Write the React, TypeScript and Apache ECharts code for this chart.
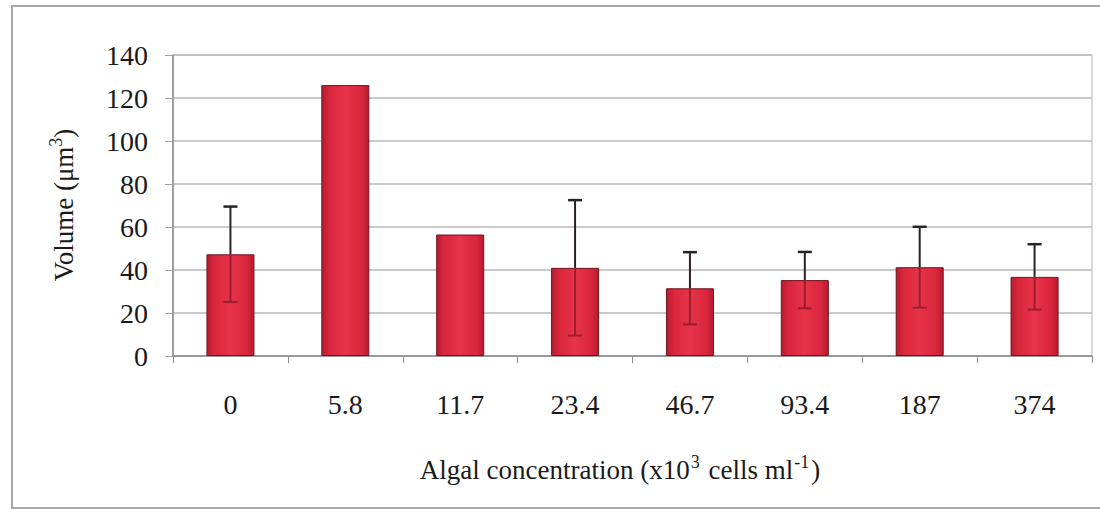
import React, { useEffect, useRef } from "react";
import * as echarts from "echarts";

const categories = ["0", "5.8", "11.7", "23.4", "46.7", "93.4", "187", "374"];
const volumes = [47.3, 126, 56.5, 41, 31.5, 35.3, 41.3, 36.8];
const errors: (number | null)[] = [22.2, null, null, 31.5, 16.8, 13.1, 18.8, 15.2];
const yTicks = { min: 0, max: 140, interval: 20 };
const xTitle = "Algal concentration (x10{sup|3} cells ml{sup|-1})";
const yTitle = "Volume (μm{sup|3})";

const FONT = "Liberation Serif";

export default function App() {
  const ref = useRef<HTMLDivElement>(null);
  useEffect(() => {
    if (!ref.current) return;
    const chart = echarts.init(ref.current, null, { renderer: "svg" });
    const errData = categories.map((c, i) => [i, volumes[i], errors[i] ?? 0]);
    chart.setOption({
      animation: false,
      backgroundColor: "#ffffff",
      grid: {
        left: 173,
        top: 55,
        right: 8,
        bottom: 156,
        show: true,
        borderColor: "#b5b5b5",
        borderWidth: 1,
      },
      xAxis: {
        type: "category",
        data: categories,
        axisLine: { show: true, lineStyle: { color: "#8c8c8c", width: 1.5 } },
        axisTick: { show: true, length: 7, lineStyle: { color: "#8c8c8c" }, alignWithLabel: false },
        axisLabel: { fontFamily: FONT, fontSize: 28, color: "#1a1a1a", margin: 34 },
      },
      yAxis: {
        type: "value",
        min: yTicks.min,
        max: yTicks.max,
        interval: yTicks.interval,
        axisLine: { show: true, lineStyle: { color: "#8c8c8c", width: 1.5 } },
        axisTick: { show: true, length: 8, lineStyle: { color: "#a0a0a0" } },
        splitLine: { show: true, lineStyle: { color: "#b8b8b8", width: 1.5 } },
        axisLabel: { fontFamily: FONT, fontSize: 28, color: "#1a1a1a", margin: 25 },
      },
      graphic: [
        {
          type: "rect",
          shape: { x: 12, y: 6, width: 1200, height: 502 },
          style: { fill: "none", stroke: "#a8a8a8", lineWidth: 2 },
          silent: true,
          z: 0,
        },
        {
          type: "text",
          x: 620,
          y: 470,
          style: {
            text: xTitle,
            fontFamily: FONT,
            fontSize: 27,
            fill: "#1a1a1a",
            align: "center",
            verticalAlign: "middle",
            rich: {
              sup: { fontFamily: FONT, fontSize: 18, fill: "#1a1a1a", padding: [0, 2, 16, 1] },
            },
          },
        },
        {
          type: "text",
          x: 64,
          y: 205,
          rotation: Math.PI / 2,
          style: {
            text: yTitle,
            fontFamily: FONT,
            fontSize: 27,
            fill: "#1a1a1a",
            align: "center",
            verticalAlign: "middle",
            rich: {
              sup: { fontFamily: FONT, fontSize: 18, fill: "#1a1a1a", padding: [0, 0, 16, 0] },
            },
          },
        },
      ],
      series: [
        {
          type: "bar",
          data: volumes,
          barWidth: 48,
          itemStyle: {
            color: new echarts.graphic.LinearGradient(0, 0, 1, 0, [
              { offset: 0, color: "#b61c30" },
              { offset: 0.15, color: "#d8263c" },
              { offset: 0.5, color: "#e8334a" },
              { offset: 0.85, color: "#d8263c" },
              { offset: 1, color: "#b61c30" },
            ]),
            borderColor: "#6e1420",
            borderWidth: 1,
          },
          z: 2,
        },
        {
          type: "custom",
          data: errData,
          z: 3,
          renderItem: (params: any, api: any) => {
            const idx = api.value(0);
            const mean = api.value(1);
            const err = api.value(2);
            if (!err) return { type: "group", children: [] };
            const hi = api.coord([idx, mean + err]);
            const mid = api.coord([idx, mean]);
            const lo = api.coord([idx, mean - err]);
            const half = 7;
            return {
              type: "group",
              children: [
                {
                  type: "line",
                  shape: { x1: hi[0], y1: hi[1], x2: mid[0], y2: mid[1] },
                  style: { stroke: "#2a2222", lineWidth: 2 },
                },
                {
                  type: "line",
                  shape: { x1: hi[0] - half, y1: hi[1], x2: hi[0] + half, y2: hi[1] },
                  style: { stroke: "#2a2222", lineWidth: 2.5 },
                },
                {
                  type: "line",
                  shape: { x1: mid[0], y1: mid[1], x2: lo[0], y2: lo[1] },
                  style: { stroke: "#9a1e2c", lineWidth: 2 },
                },
                {
                  type: "line",
                  shape: { x1: lo[0] - half, y1: lo[1], x2: lo[0] + half, y2: lo[1] },
                  style: { stroke: "#9a1e2c", lineWidth: 2 },
                },
              ],
            };
          },
        },
      ],
    });
    return () => chart.dispose();
  }, []);
  return (
    <div
      ref={ref}
      style={{ position: "fixed", left: 0, top: 0, width: 1100, height: 512, background: "#fff" }}
    />
  );
}
